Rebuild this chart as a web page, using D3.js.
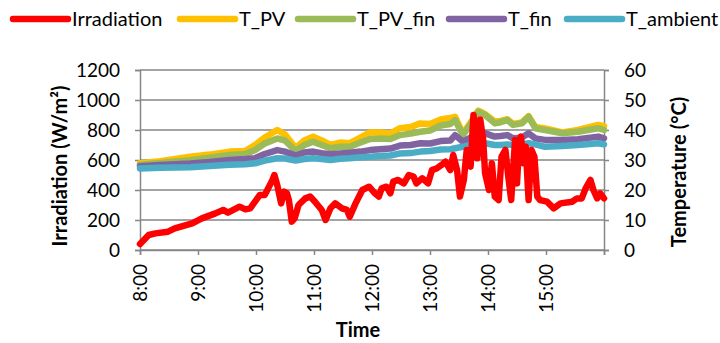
<!DOCTYPE html>
<html>
<head>
<meta charset="utf-8">
<script src="https://cdn.jsdelivr.net/npm/d3@7"></script>
<style>
  html, body { margin: 0; padding: 0; background: #fff; }
  svg { display: block; font-family: Lato, "Open Sans", sans-serif; }
</style>
</head>
<body>
<div id="chart"></div>
<script>
// irradiation readings (W/m2)
const irrTimes = ["8:00","8:09","8:16","8:29","8:36","8:54","9:04","9:18","9:26","9:31","9:35","9:43","9:49","9:54",
  "10:04","10:09","10:17","10:19","10:22","10:26","10:29","10:32","10:34","10:37","10:40","10:44","10:51","10:56",
  "11:01","11:08","11:12","11:17","11:22","11:29","11:34","11:37","11:43","11:50","11:57",
  "12:03","12:07","12:10","12:15","12:19","12:22","12:27","12:33","12:38","12:43","12:46","12:52","12:58",
  "13:02","13:07","13:12","13:16","13:21","13:24","13:28","13:31","13:35","13:38","13:42","13:45","13:49","13:52","13:55","13:57",
  "14:01","14:04","14:07","14:11","14:14","14:18","14:21","14:24","14:28","14:30","14:32","14:34","14:37","14:39","14:42","14:45","14:48","14:51","14:54",
  "15:01","15:08","15:15","15:27","15:32","15:37","15:41","15:46","15:49","15:53","15:56","16:00"];
const irradiation = [40,100,111,122,144,178,211,244,267,249,262,289,271,278,
  367,367,467,500,433,311,389,378,333,189,211,300,344,356,
  322,267,200,278,311,278,267,222,311,400,422,
  378,356,411,422,378,456,467,444,500,489,444,478,444,
  533,544,567,589,533,633,533,356,467,667,556,900,611,870,733,511,
  400,578,356,333,622,667,489,333,733,444,689,756,578,689,333,667,622,356,333,
  322,278,311,322,344,344,411,467,400,344,378,344];

// temperatures (°C)
const tTimes = ["8:00","8:21","8:52","9:12","9:33","9:49","9:59","10:09","10:22","10:30","10:41","10:50","10:59",
  "11:08","11:17","11:27","11:37","11:48","11:58","12:08","12:19","12:29","12:40","12:50","13:00","13:11","13:21",
  "13:26","13:34","13:42","13:50","13:57","14:07","14:13","14:20","14:26","14:35","14:42","14:49","14:59",
  "15:17","15:33","15:54","16:00"];
const tPV = [28.9,29.6,31.1,31.8,32.8,33.0,35.0,37.5,40.0,38.5,34.0,36.5,37.8,
  36.5,35.0,35.8,35.6,37.5,39.2,39.2,38.8,40.6,41.0,42.2,42.0,43.5,44.0,
  44.4,38.8,42.5,46.5,45.3,42.8,43.0,43.6,42.0,42.5,44.6,41.0,40.5,
  39.2,40.0,41.7,41.3];
const tPVfin = [28.4,29.0,29.9,30.8,31.7,32.0,33.3,35.5,37.2,36.5,33.0,35.0,36.1,
  35.0,33.9,34.4,34.4,35.8,37.0,37.2,37.0,38.3,38.8,39.4,39.8,41.5,42.0,
  43.3,38.3,42.0,46.1,45.0,42.2,42.6,43.3,41.7,42.2,44.4,40.6,40.0,
  38.9,39.4,40.6,40.0];
const tFin = [27.9,28.3,28.8,29.3,30.0,30.3,30.6,32.0,33.3,32.8,31.5,32.5,32.8,
  32.3,31.9,32.2,32.4,32.8,33.3,33.6,33.8,34.8,35.0,35.6,35.5,36.3,36.5,
  38.3,36.1,37.5,38.9,38.9,37.8,38.0,38.3,37.2,37.5,38.9,37.2,36.7,
  36.7,36.9,37.8,37.2];
const tAmbient = [27.2,27.4,27.6,28.0,28.4,28.6,28.9,29.8,30.6,30.5,29.8,30.3,30.6,
  30.3,30.0,30.4,30.6,30.9,31.1,31.3,31.5,32.2,32.3,32.8,33.0,33.5,33.6,
  33.9,34.4,35.0,35.6,35.6,35.0,35.0,35.2,35.0,35.2,35.6,35.2,34.4,
  34.7,35.0,35.6,35.2];

const hourTicks = ["8:00","9:00","10:00","11:00","12:00","13:00","14:00","15:00"];
const irrTicks = [0,200,400,600,800,1000,1200];
const tempTicks = [0,10,20,30,40,50,60];

const seriesNames = ["Irradiation","T_PV","T_PV_fin","T_fin","T_ambient"];
const seriesColors = ["#FF0000","#FFC000","#9BBB59","#8064A2","#4BACC6"];

const W = 720, H = 343;
const margin = {left: 140, right: 116, top: 70, bottom: 93};
const iw = W - margin.left - margin.right;
const ih = H - margin.top - margin.bottom;

const toMin = s => { const p = s.split(":"); return (+p[0] - 8) * 60 + (+p[1]); };

const x = d3.scaleLinear().domain([0, 480]).range([0, iw]);
const yL = d3.scaleLinear().domain([0, 1200]).range([ih, 0]);
const yR = d3.scaleLinear().domain([0, 60]).range([ih, 0]);

const svg = d3.select("#chart").append("svg")
  .attr("width", W).attr("height", H);

const g = svg.append("g").attr("transform", `translate(${margin.left},${margin.top})`);

const grey = "#868686";

// gridlines
g.append("g").selectAll("line").data(irrTicks).join("line")
  .attr("x1", 0).attr("x2", iw)
  .attr("y1", d => yL(d)).attr("y2", d => yL(d))
  .attr("stroke", grey).attr("stroke-width", 1.5);

// left axis
const axL = g.append("g").call(d3.axisLeft(yL).tickValues(irrTicks).tickFormat(d3.format("d"))
  .tickSize(5).tickPadding(15));
// right axis
const axR = g.append("g").attr("transform", `translate(${iw},0)`)
  .call(d3.axisRight(yR).tickValues(tempTicks).tickSize(5).tickPadding(15));
// bottom axis
const axB = g.append("g").attr("transform", `translate(0,${ih})`)
  .call(d3.axisBottom(x).tickValues(hourTicks.map(toMin).concat([480]))
    .tickSize(5).tickFormat(d => hourTicks[d / 60] || ""));

[axL, axR, axB].forEach(a => {
  a.select(".domain").attr("stroke", grey).attr("stroke-width", 1.5);
  a.selectAll(".tick line").attr("stroke", grey).attr("stroke-width", 1.5);
  a.selectAll("text").attr("fill", "#000").style("font-size", "19px")
    .style("font-family", "Lato, 'Open Sans', sans-serif");
});

axB.selectAll("text")
  .attr("transform", "rotate(-90)")
  .attr("text-anchor", "end")
  .attr("x", -14).attr("y", 0).attr("dy", "0.35em");

// lines
const tempSeries = [tPV, tPVfin, tFin, tAmbient];
const tMins = tTimes.map(toMin);
const lineT = d3.line().x(d => x(d[0])).y(d => yR(d[1]));
const lineI = d3.line().x(d => x(d[0])).y(d => yL(d[1]));

tempSeries.forEach((vals, i) => {
  g.append("path")
    .datum(vals.map((v, j) => [tMins[j], v]))
    .attr("d", lineT)
    .attr("fill", "none")
    .attr("stroke", seriesColors[i + 1])
    .attr("stroke-width", 6.5)
    .attr("stroke-linejoin", "round")
    .attr("stroke-linecap", "round");
});

g.append("path")
  .datum(irradiation.map((v, j) => [toMin(irrTimes[j]), v]))
  .attr("d", lineI)
  .attr("fill", "none")
  .attr("stroke", seriesColors[0])
  .attr("stroke-width", 6.5)
  .attr("stroke-linejoin", "round")
  .attr("stroke-linecap", "round");

// axis titles
svg.append("text")
  .attr("transform", `translate(67,${margin.top + ih / 2 + 6}) rotate(-90)`)
  .attr("text-anchor", "middle")
  .style("font-size", "20px").style("font-weight", "bold")
  .text("Irradiation (W/m²)");

svg.append("text")
  .attr("transform", `translate(686,${margin.top + ih / 2 + 12}) rotate(-90)`)
  .attr("text-anchor", "middle")
  .style("font-size", "20px").style("font-weight", "bold")
  .text("Temperature (°C)");

svg.append("text")
  .attr("x", 358).attr("y", 337)
  .attr("text-anchor", "middle")
  .style("font-size", "20px").style("font-weight", "bold")
  .text("Time");

// legend
const legendX = [13, 180, 298, 449, 567];
const leg = svg.append("g").selectAll("g").data(seriesNames).join("g")
  .attr("transform", (d, i) => `translate(${legendX[i]},19)`);
leg.append("line")
  .attr("x1", 0).attr("x2", 55)
  .attr("stroke", (d, i) => seriesColors[i])
  .attr("stroke-width", 6.5).attr("stroke-linecap", "round");
leg.append("text")
  .attr("x", 59).attr("dy", "0.35em")
  .style("font-size", "20px")
  .text(d => d);
</script>
</body>
</html>
